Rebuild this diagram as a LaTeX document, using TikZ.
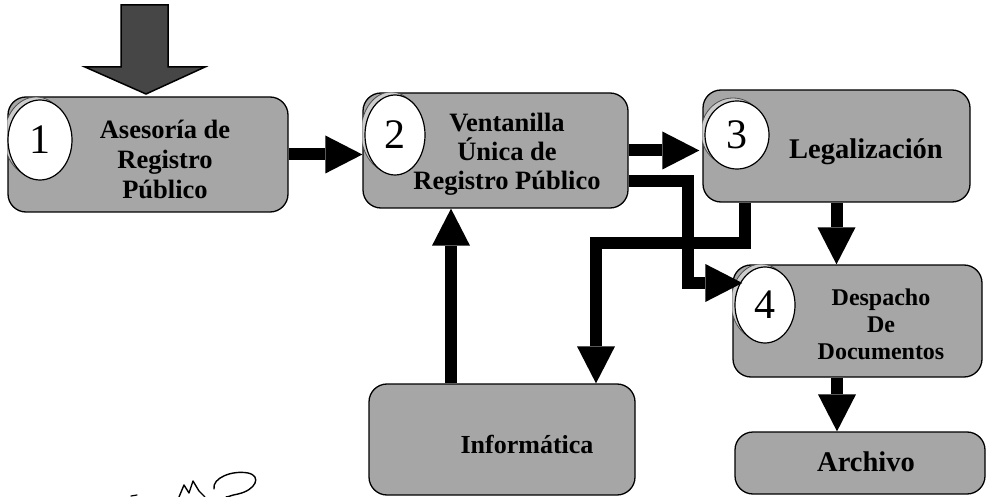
\documentclass[tikz,border=0pt]{standalone}
\usepackage{fontspec}
\setmainfont{Liberation Serif}
\usetikzlibrary{arrows.meta,shapes.geometric,calc}
\definecolor{boxgray}{RGB}{166,166,166}
\definecolor{ringgray}{RGB}{205,205,205}
\definecolor{entrygray}{RGB}{70,70,70}
\begin{document}
\begin{tikzpicture}[x=1pt,y=-1pt,
  stage/.style={draw=black, line width=1.3pt, fill=boxgray, rounded corners=18pt, inner sep=0pt},
  numdisc/.style={ellipse, draw=black, line width=1.2pt, fill=white, inner sep=0pt,
                  font=\fontsize{42}{42}\selectfont},
  ringshade/.style={ellipse, draw=black!70, line width=0.8pt, fill=ringgray, inner sep=0pt},
  boxtext/.style={align=center, inner sep=0pt, font=\bfseries\fontsize{26.5}{30}\selectfont},
  bigtext/.style={boxtext, font=\bfseries\fontsize{28.5}{30}\selectfont},
  flow/.style={draw=black, line width=12pt,
               -{Triangle[width=38pt,length=37pt,line width=0pt]}}
]
\useasboundingbox (0,0) rectangle (988,497);

% ---- stage boxes ----
\node[stage, minimum width=280pt, minimum height=115pt] (b1) at (148,154.5) {};
\node[stage, minimum width=265pt, minimum height=115pt] (b2) at (495.5,150.5) {};
\node[stage, minimum width=267pt, minimum height=112pt] (b3) at (836.5,146) {};
\node[stage, minimum width=249pt, minimum height=112pt] (b4) at (857.5,321) {};
\node[stage, minimum width=266pt, minimum height=111pt] (inf) at (502,439.5) {};
\node[stage, minimum width=250pt, minimum height=62pt] (arch) at (860,463) {};

% ---- shaded rims behind the numbered discs ----
\begin{scope}
  \clip[rounded corners=18pt] (b1.north west) rectangle (b1.south east);
  \node[ringshade, minimum width=64pt, minimum height=80pt] (r1) at (36,137) {};
\end{scope}
\begin{scope}
  \clip[rounded corners=18pt] (b2.north west) rectangle (b2.south east);
  \node[ringshade, minimum width=60pt, minimum height=80pt] (r2) at (391,132) {};
\end{scope}
\begin{scope}
  \clip[rounded corners=18pt] (b3.north west) rectangle (b3.south east);
  \node[ringshade, minimum width=64pt, minimum height=68pt] (r3) at (733,132) {};
\end{scope}
\begin{scope}
  \clip[rounded corners=18pt] (b4.north west) rectangle (b4.south east);
  \node[ringshade, minimum width=60pt, minimum height=76pt] (r4) at (761,302) {};
\end{scope}

% ---- numbered discs ----
\node[numdisc, minimum width=64pt, minimum height=80pt] (c1) at (40,140) {1};
\node[numdisc, minimum width=60pt, minimum height=80pt] (c2) at (395,135) {2};
\node[numdisc, minimum width=64pt, minimum height=68pt] (c3) at (737,135) {3};
\node[numdisc, minimum width=60pt, minimum height=76pt] (c4) at (765,305) {4};

% ---- box texts ----
\node[boxtext] (t1) at (165,159) {Asesoría de\\Registro\\Público};
\node[boxtext, font=\bfseries\fontsize{26.5}{29}\selectfont] (t2) at (507,154) {Ventanilla\\Única de\\Registro Público};
\node[bigtext] (t3) at (866,152) {Legalización};
\node[boxtext, font=\bfseries\fontsize{24}{27}\selectfont] (t4) at (881,324) {Despacho\\De\\Documentos};
\node[boxtext, font=\bfseries\fontsize{26}{30}\selectfont] (t5) at (527,444) {Informática};
\node[bigtext] (t6) at (866,462) {Archivo};

% ---- entry arrow into stage 1 ----
\coordinate (intip) at (146,94);
\draw[line width=1.5pt, fill=entrygray, line join=miter]
  (intip) -- ++(59,-27) -- ++(-37,0) -- ++(0,-62) -- ++(-47,0)
  -- ++(0,62) -- ++(-36,0) -- cycle;

% ---- routing points ----
\coordinate (j1) at (688,181);
\coordinate (j2) at (688,283);
\coordinate (k1) at (745,243);
\coordinate (k2) at (596,243);
\coordinate (ux) at (451,300);
\coordinate (vx) at (837,400);

% ---- connectors ----
\draw[flow] (b1.east) -- (b1.east -| b2.west);
\draw[flow] (b2.east) -- ([xshift=-3pt]b2.east -| b3.west);
\draw[flow] (b2.east |- j1) -- (j1) -- (j2) -- ([xshift=10pt]j2 -| b4.west);
\draw[flow] (b3.south -| k1) -- (k1) -- (k2) -- (k2 |- inf.north);
\draw[flow] (ux |- inf.north) -- (ux |- b2.south);
\draw[flow] (b3.south) -- (b3.south |- b4.north);
\draw[flow] (vx |- b4.south) -- (vx |- arch.north);

% ---- signature ----
\draw[line width=1.4pt, line cap=round, line join=round]
  (179,497) -- (184,485) -- (189,493) -- (193,481) -- (199,491) -- (205,497);
\draw[line width=1.4pt, line cap=round]
  (214,489) .. controls (212,478) and (232,470) .. (248,473)
  .. controls (262,476) and (256,490) .. (238,494)
  .. controls (232,495) and (228,497) .. (226,497);
\draw[line width=1.2pt, line cap=round] (131,496) -- (137,495);
\end{tikzpicture}
\end{document}
